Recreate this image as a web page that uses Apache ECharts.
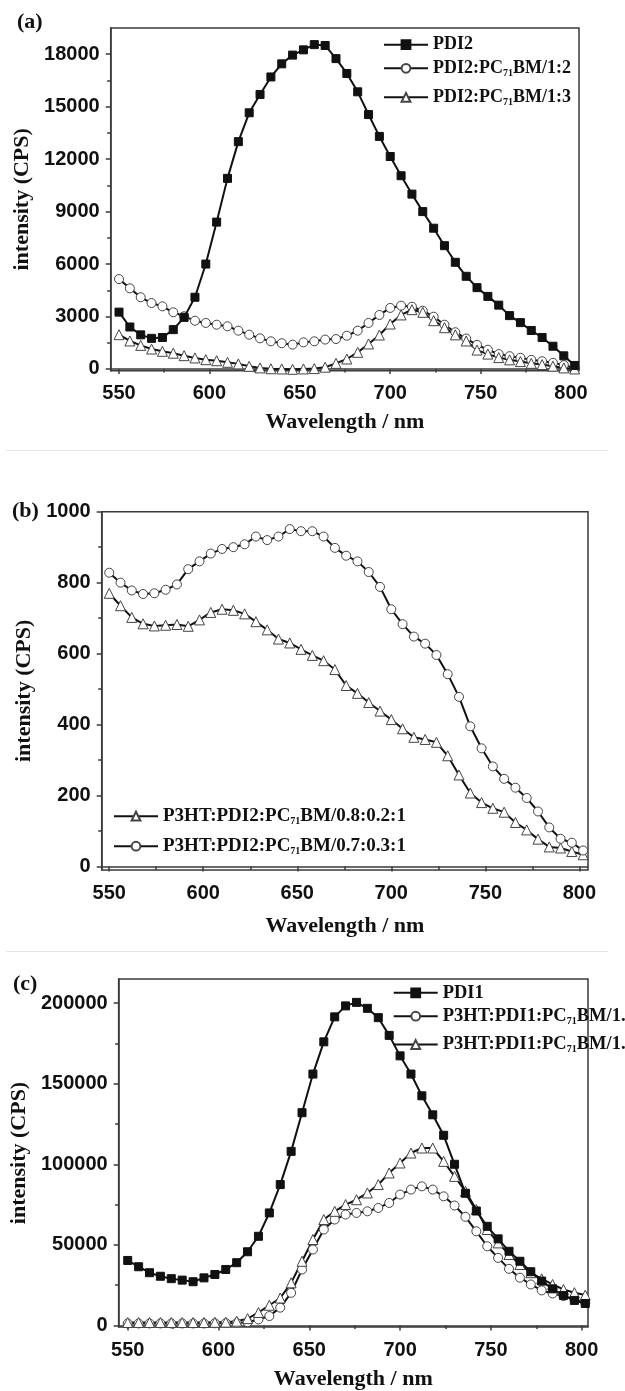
<!DOCTYPE html>
<html>
<head>
<meta charset="utf-8">
<script src="https://cdn.jsdelivr.net/npm/echarts@6/dist/echarts.min.js"></script>
<style>
  html, body { margin: 0; padding: 0; background: #fff; }
  #chart { width: 625px; height: 1391px; }
</style>
</head>
<body>
<div id="chart"></div>
<script>
// Emission wavelengths (nm) shared by every spectrum
const wavelengths = [550, 556, 562, 568, 574, 580, 586, 592, 598, 604, 610, 616, 622, 628, 634,
  640, 646, 652, 658, 664, 670, 676, 682, 688, 694, 700, 706, 712, 718, 724, 730,
  736, 742, 748, 754, 760, 766, 772, 778, 784, 790, 796, 802];

// (a) PDI2 and its PC71BM blends
const pdi2 = [3250, 2400, 1950, 1750, 1800, 2250, 2950, 4100, 6000, 8400, 10900, 13000, 14650, 15700, 16700,
  17450, 17950, 18250, 18550, 18500, 17750, 16900, 15850, 14550, 13300, 12150, 11050, 10000, 9000, 8050, 7050,
  6100, 5300, 4650, 4150, 3650, 3050, 2650, 2200, 1800, 1300, 750, 200];
const pdi2Pc12 = [5140, 4610, 4100, 3770, 3580, 3240, 3010, 2760, 2630, 2530, 2440, 2190, 1960, 1750, 1580,
  1470, 1390, 1520, 1580, 1680, 1710, 1900, 2190, 2630, 3090, 3490, 3620, 3560, 3330, 2990, 2530,
  2100, 1740, 1380, 1100, 850, 730, 640, 520, 440, 350, 220, 50];
const pdi2Pc13 = [1960, 1600, 1350, 1140, 1010, 900, 760, 630, 530, 470, 380, 290, 150, 60, 10,
  0, -20, 0, 20, 100, 320, 570, 950, 1430, 1940, 2570, 3090, 3390, 3240, 2760, 2360,
  1950, 1600, 1080, 850, 650, 520, 420, 320, 250, 160, 60, 0];

// (b) ternary P3HT:PDI2:PC71BM blends
const ternary082 = [770, 735, 702, 684, 678, 680, 682, 677, 695, 716, 725, 722, 712, 690, 667,
  641, 630, 612, 595, 580, 555, 510, 488, 462, 438, 414, 388, 364, 358, 350, 312,
  258, 207, 180, 164, 153, 124, 103, 77, 55, 52, 42, 33];
const ternary073 = [828, 800, 778, 768, 770, 780, 795, 838, 860, 882, 895, 900, 908, 930, 920,
  930, 951, 945, 945, 930, 898, 876, 860, 830, 788, 725, 683, 648, 628, 596, 542,
  478, 395, 333, 282, 247, 222, 193, 155, 110, 78, 67, 45];

// (c) PDI1 and its P3HT:PC71BM blends
const pdi1 = [40300, 36400, 32700, 30500, 29000, 28100, 27100, 29500, 31600, 34700, 38900, 45700, 55300, 69800, 87400,
  108000, 132000, 156000, 176000, 191500, 198300, 200500, 196800, 191000, 180000, 167300, 156000, 142500, 130700, 118000, 100000,
  82000, 71000, 61500, 53700, 46000, 39800, 33300, 27500, 22700, 18600, 15500, 13600];
const pdi1BlendA = [1200, 1200, 1200, 1200, 1200, 1200, 1200, 1200, 1300, 1400, 1500, 2000, 3700, 5800, 11000,
  20200, 34700, 47100, 59500, 65700, 68800, 69800, 70800, 72900, 76000, 81200, 84300, 86300, 84300, 80100, 74400,
  67400, 58400, 49100, 41900, 35100, 29600, 25400, 21700, 19800, 18200, 16100, 14000];
const pdi1BlendB = [1800, 1800, 1800, 1800, 1800, 1800, 1800, 1800, 1900, 2000, 2600, 4200, 8000, 12500, 17000,
  26400, 39800, 53300, 65700, 70800, 75000, 78000, 82200, 87400, 94600, 100800, 107000, 110100, 110100, 101800, 92500,
  83200, 71900, 59500, 51200, 44000, 37800, 32700, 28900, 25400, 22300, 20300, 18800];

// Tick values
const xTicks = [550, 600, 650, 700, 750, 800];
const xMinorTicks = [575, 625, 675, 725, 775];
const yTicksA = [0, 3000, 6000, 9000, 12000, 15000, 18000];
const yMinorA = [1500, 4500, 7500, 10500, 13500, 16500];
const yTicksB = [0, 200, 400, 600, 800, 1000];
const yMinorB = [100, 300, 500, 700, 900];
const yTicksC = [0, 50000, 100000, 150000, 200000];
const yMinorC = [25000, 75000, 125000, 175000];

const INK = '#111';
const FRAME = '#3a3a3a';
const SANS = '"Liberation Sans", Arial, sans-serif';
const SERIF = '"Liberation Serif", "Times New Roman", serif';

const panels = [
  {
    tag: '(a)', tagPos: [17, 23],
    grid: { left: 110.7, top: 28, width: 468.3, height: 342.7 },
    x: [545.4, 804.4], y: [-100, 19500], yTicks: yTicksA, yMinor: yMinorA,
    yNameGap: 55, xNameGap: 41,
    series: [
      ['PDI2', pdi2, 'rect'],
      ['PDI2:PC71BM/1:2', pdi2Pc12, 'circle'],
      ['PDI2:PC71BM/1:3', pdi2Pc13, 'triangle']
    ],
    legend: { left: 383, rows: [45.7, 69.3, 98.3], size: 18 }
  },
  {
    tag: '(b)', tagPos: [12, 512],
    grid: { left: 101.7, top: 511.7, width: 486.3, height: 358.3 },
    x: [546, 804.6], y: [-10, 1000], yTicks: yTicksB, yMinor: yMinorB,
    yNameGap: 57, xNameGap: 45,
    series: [
      ['P3HT:PDI2:PC71BM/0.8:0.2:1', ternary082, 'triangle'],
      ['P3HT:PDI2:PC71BM/0.7:0.3:1', ternary073, 'circle']
    ],
    legend: { left: 113, rows: [816.7, 846.7], size: 19 }
  },
  {
    tag: '(c)', tagPos: [13, 985],
    grid: { left: 115.7, top: 979, width: 472.3, height: 348 },
    x: [545, 803.5], y: [-1000, 215000], yTicks: yTicksC, yMinor: yMinorC,
    yNameGap: 80, xNameGap: 41,
    series: [
      ['PDI1', pdi1, 'rect'],
      ['P3HT:PDI1:PC71BM/1.', pdi1BlendA, 'circle'],
      ['P3HT:PDI1:PC71BM/1.\u200b', pdi1BlendB, 'triangle']
    ],
    legend: { left: 392.7, rows: [993.3, 1016.7, 1045], size: 18.5 }
  }
];

// Legend text: "PC71BM" gets a subscripted 71
function legendText(name) {
  const clean = name.replace('\u200b', '');
  const k = clean.indexOf('PC71BM');
  if (k < 0) return '{m|' + clean + '}';
  return '{m|' + clean.slice(0, k + 2) + '}{s|71}{m|' + clean.slice(k + 4) + '}';
}

const plainNumber = v => String(v);

const xAxes = [], yAxes = [], grids = [], series = [], legends = [], graphics = [];

panels.forEach((p, i) => {
  grids.push(Object.assign({ show: true, borderColor: FRAME, borderWidth: 1.5, containLabel: false }, p.grid));

  xAxes.push({
    type: 'value', gridIndex: i, min: p.x[0], max: p.x[1], position: 'bottom',
    name: 'Wavelength / nm', nameLocation: 'middle', nameGap: p.xNameGap,
    nameTextStyle: { fontFamily: SERIF, fontWeight: 'bold', fontSize: 22, color: INK },
    axisLine: { lineStyle: { color: FRAME, width: 1.5 } },
    axisTick: { customValues: xTicks, length: 5, lineStyle: { color: FRAME, width: 1.5 } },
    axisLabel: { customValues: xTicks, formatter: plainNumber, margin: 13, fontFamily: SANS, fontWeight: 'bold', fontSize: 20, color: INK },
    splitLine: { show: false }
  });
  xAxes.push({
    type: 'value', gridIndex: i, min: p.x[0], max: p.x[1], position: 'bottom',
    axisLine: { show: false },
    axisTick: { customValues: xMinorTicks, length: 3.5, lineStyle: { color: FRAME, width: 1.5 } },
    axisLabel: { show: false }, splitLine: { show: false }
  });
  yAxes.push({
    type: 'value', gridIndex: i, min: p.y[0], max: p.y[1], position: 'left',
    name: 'intensity (CPS)', nameLocation: 'middle', nameGap: p.yNameGap, nameRotate: 90,
    nameTextStyle: { fontFamily: SERIF, fontWeight: 'bold', fontSize: 22, color: INK },
    axisLine: { show: true, lineStyle: { color: FRAME, width: 1.5 } },
    axisTick: { show: true, customValues: p.yTicks, length: 5, lineStyle: { color: FRAME, width: 1.5 } },
    axisLabel: { customValues: p.yTicks, formatter: plainNumber, margin: 11, fontFamily: SANS, fontWeight: 'bold', fontSize: 20, color: INK },
    splitLine: { show: false }
  });
  yAxes.push({
    type: 'value', gridIndex: i, min: p.y[0], max: p.y[1], position: 'left', offset: 0,
    axisLine: { show: false },
    axisTick: { show: true, customValues: p.yMinor, length: 3.5, lineStyle: { color: FRAME, width: 1.5 } },
    axisLabel: { show: false }, splitLine: { show: false }
  });

  p.series.forEach(([name, values, symbol], k) => {
    const filled = symbol === 'rect';
    series.push({
      type: 'line', name, xAxisIndex: 2 * i, yAxisIndex: 2 * i,
      data: wavelengths.map((w, j) => [w, values[j]]),
      symbol, symbolSize: filled ? 8 : (symbol === 'triangle' ? 10 : 9),
      showAllSymbol: true,
      lineStyle: { color: INK, width: 2 },
      itemStyle: { color: filled ? INK : '#fff', borderColor: filled ? INK : '#444', borderWidth: 1 },
      emphasis: { disabled: true },
      z: filled ? 4 : 3
    });

    // one legend entry per row, centred on the row's height
    legends.push({
      orient: 'vertical', left: p.legend.left, top: p.legend.rows[k] - 10, padding: 0,
      itemWidth: 44, itemHeight: 11,
      selectedMode: false,
      data: [name],
      formatter: legendText,
      textStyle: {
        color: INK,
        rich: {
          m: { fontFamily: SERIF, fontWeight: 'bold', fontSize: p.legend.size, lineHeight: 20, color: INK },
          s: { fontFamily: SERIF, fontWeight: 'bold', fontSize: 10, lineHeight: 10, verticalAlign: 'bottom', color: INK }
        }
      }
    });
  });

  graphics.push({
    type: 'text', left: p.tagPos[0], top: p.tagPos[1] - 12,
    style: { text: p.tag, font: 'bold 22px ' + SERIF, fill: INK }
  });
});

// thin rules separating the three panels
graphics.push({ type: 'line', shape: { x1: 6, y1: 450.5, x2: 608, y2: 450.5 }, style: { stroke: '#e6e6e6', lineWidth: 1 } });
graphics.push({ type: 'line', shape: { x1: 6, y1: 951.5, x2: 608, y2: 951.5 }, style: { stroke: '#e6e6e6', lineWidth: 1 } });

const chart = echarts.init(document.getElementById('chart'), null, { renderer: 'canvas' });
chart.setOption({
  animation: false,
  backgroundColor: '#fff',
  grid: grids,
  xAxis: xAxes,
  yAxis: yAxes,
  legend: legends,
  series,
  graphic: graphics
});
</script>
</body>
</html>
